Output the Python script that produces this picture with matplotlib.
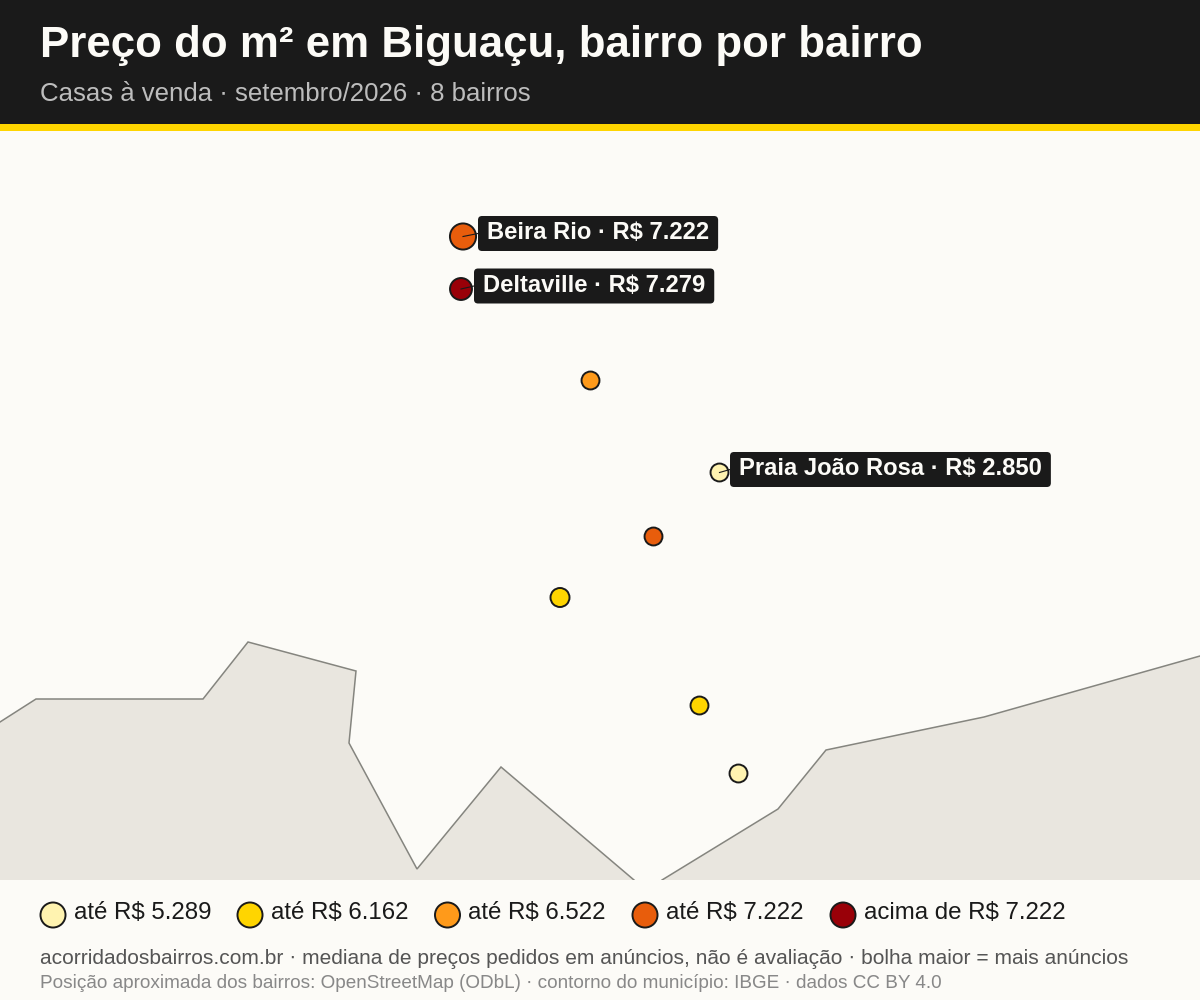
import matplotlib
matplotlib.use('Agg')
import matplotlib.pyplot as plt
from matplotlib.patches import FancyBboxPatch, Polygon, Rectangle

plt.rcParams['font.family'] = ['Liberation Sans', 'DejaVu Sans']
plt.rcParams['text.hinting'] = 'no_autohint'

# Mapa em coordenadas da imagem
contorno_x = [-5, 0, 36, 203, 248, 356, 349, 417, 501, 634, 648, 662, 778, 826, 984, 1200, 1205, 1205, -5]
contorno_y = [725, 722, 699, 699, 642, 671, 743, 869, 767, 880, 892, 880, 809, 750, 717, 656, 655, 900, 900]

# Bairros (valores sem rótulo são estimados pela cor)
bairro_x = [463, 461, 590.5, 719.5, 653.5, 560, 699.5, 738.5]
bairro_y = [236.5, 289, 380.5, 472.5, 536.5, 597.5, 705.5, 773.5]
preco = [7222, 7279, 6400, 2850, 7000, 5900, 5800, 5000]
anuncios = [34, 24, 16, 16, 16, 18, 16, 16]

rotulos = ['Beira Rio · R$ 7.222', 'Deltaville · R$ 7.279', 'Praia João Rosa · R$ 2.850']
rotulo_idx = [0, 1, 3]
rotulo_x = [487, 483, 739]
rotulo_y = [233.5, 286, 469.5]

faixas = [5289, 6162, 6522, 7222]
cores = ['#FFF3B0', '#FFD500', '#FF9A1A', '#E85D0C', '#990008']
legenda = ['até R$ 5.289', 'até R$ 6.162', 'até R$ 6.522', 'até R$ 7.222', 'acima de R$ 7.222']
legenda_x = [53, 250, 447.5, 645, 843]

INK = '#1A1A1A'
BG = '#FCFBF7'


def cor_faixa(v):
    for limite, cor in zip(faixas, cores):
        if v <= limite:
            return cor
    return cores[-1]


fig = plt.figure(figsize=(12, 10), dpi=100, facecolor=BG)
ax = fig.add_axes([0, 0, 1, 1])
ax.set_xlim(0, 1200)
ax.set_ylim(1000, 0)
ax.axis('off')

# contorno do município
ax.add_patch(Polygon(list(zip(contorno_x, contorno_y)), closed=True, facecolor='#E9E6DF',
                     edgecolor='#85857F', linewidth=1.1, zorder=1))

# cabeçalho e rodapé
ax.add_patch(Rectangle((0, 880), 1200, 120, facecolor=BG, edgecolor='none', zorder=2))
ax.add_patch(Rectangle((0, 0), 1200, 124, facecolor=INK, edgecolor='none', zorder=2))
ax.add_patch(Rectangle((0, 124), 1200, 7, facecolor='#FFD500', edgecolor='none', zorder=2))

ax.text(40, 57, 'Preço do m² em Biguaçu, bairro por bairro', color=BG, fontsize=31.6,
        fontweight='bold', va='baseline', ha='left', zorder=3)
ax.text(40, 101, 'Casas à venda · setembro/2026 · 8 bairros', color='#BDBDBD', fontsize=18.57,
        va='baseline', ha='left', zorder=3)

# bolhas
ax.scatter(bairro_x, bairro_y, s=[n * 10.4 for n in anuncios], c=[cor_faixa(v) for v in preco],
           edgecolors=INK, linewidths=1.4, zorder=4)

# rótulos: caixa medida a partir do texto
renderer = fig.canvas.get_renderer()
for txt, i, tx, ty in zip(rotulos, rotulo_idx, rotulo_x, rotulo_y):
    t = ax.text(tx, ty + 5.5, txt, color=BG, fontsize=17.12, fontweight='bold', va='baseline', ha='left', zorder=7)
    ext = t.get_window_extent(renderer)
    x0, x1 = ext.x0 - 6, ext.x1 + 6
    ax.add_patch(FancyBboxPatch((x0, ty - 14.5), x1 - x0, 29, boxstyle='round,pad=3,rounding_size=4',
                                facecolor=INK, edgecolor='none', zorder=6))
    ax.plot([bairro_x[i], x0 - 3], [bairro_y[i], ty], color=INK, lw=0.8, zorder=5)

# legenda
ax.scatter(legenda_x, [915] * len(legenda_x), s=325, c=cores, edgecolors=INK, linewidths=1.4, zorder=4)
for lx, txt in zip(legenda_x, legenda):
    ax.text(lx + 21, 919, txt, color=INK, fontsize=17.28, va='baseline', ha='left', zorder=4)

ax.text(40, 964, 'acorridadosbairros.com.br · mediana de preços pedidos em anúncios, não é avaliação · bolha maior = mais anúncios',
        color='#555555', fontsize=15.12, va='baseline', ha='left', zorder=4)
ax.text(40, 988, 'Posição aproximada dos bairros: OpenStreetMap (ODbL) · contorno do município: IBGE · dados CC BY 4.0',
        color='#888888', fontsize=13.62, va='baseline', ha='left', zorder=4)

fig.savefig('out.png', dpi=100, facecolor=BG)
